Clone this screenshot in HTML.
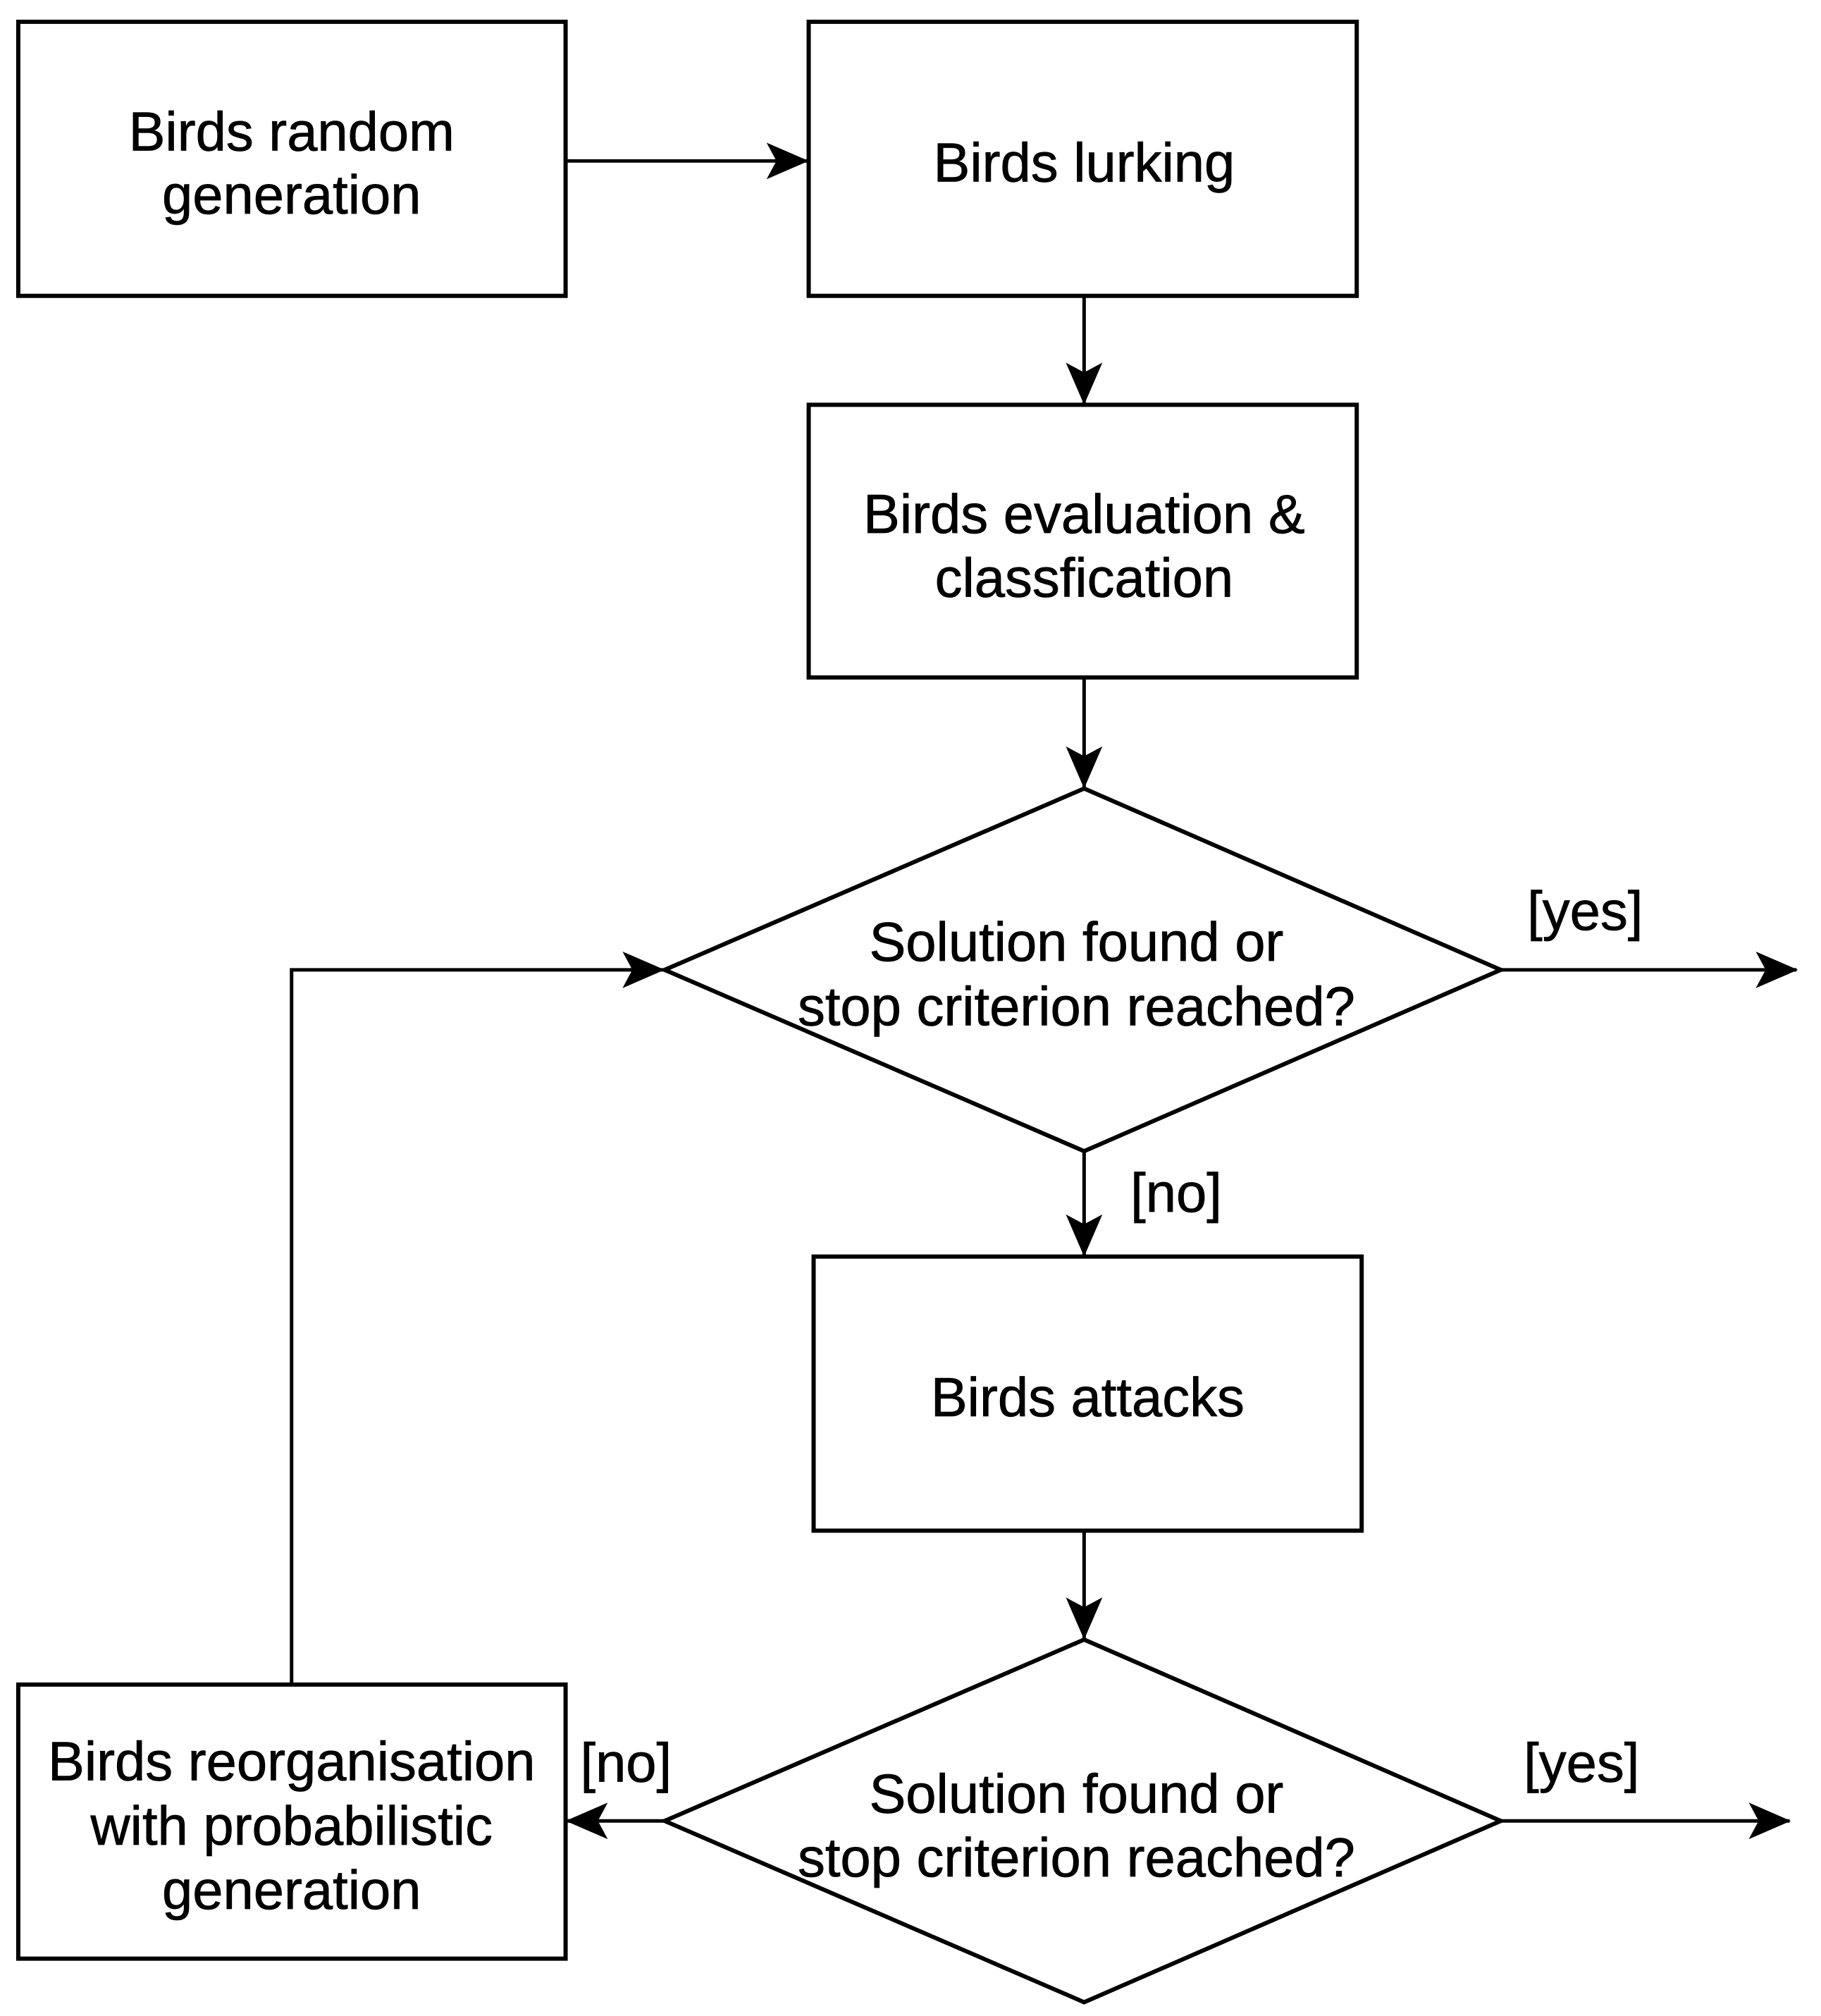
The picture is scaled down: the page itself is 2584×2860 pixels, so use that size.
<!DOCTYPE html>
<html><head><meta charset="utf-8"><style>html,body{margin:0;padding:0;background:#fff}svg{display:block}</style></head>
<body>
<svg width="2584" height="2860" viewBox="0 0 2584 2860" xmlns="http://www.w3.org/2000/svg">
<defs>
<marker id="b" markerWidth="60" markerHeight="60" refX="58" refY="30" orient="auto" markerUnits="userSpaceOnUse"><path d="M0,4 L60,30 L0,56 L14,30 Z" fill="#000"/></marker></defs>
<g transform="scale(0.997)">
<g fill="none" stroke="#000" stroke-width="6">
<rect x="26" y="31" width="779" height="390"/>
<rect x="1151" y="31" width="780" height="390"/>
<rect x="1151" y="576" width="780" height="388"/>
<polygon points="1543,1122 2136,1380 1543,1638 946,1380"/>
<rect x="1158" y="1788" width="780" height="390"/>
<polygon points="1543,2333 2136,2591 1543,2849 946,2591"/>
<rect x="26" y="2397" width="779" height="390"/>
<g stroke-width="5">
<line x1="805" y1="229" x2="1149" y2="229" marker-end="url(#b)"/>
<line x1="1543" y1="421" x2="1543" y2="574" marker-end="url(#b)"/>
<line x1="1543" y1="964" x2="1543" y2="1120" marker-end="url(#b)"/>
<line x1="1543" y1="1638" x2="1543" y2="1786" marker-end="url(#b)"/>
<line x1="1543" y1="2178" x2="1543" y2="2331" marker-end="url(#b)"/>
<line x1="2136" y1="1380" x2="2557" y2="1380" marker-end="url(#b)"/>
<line x1="2136" y1="2591" x2="2547" y2="2591" marker-end="url(#b)"/>
<line x1="946" y1="2591" x2="807" y2="2591" marker-end="url(#b)"/>
<polyline points="415,2397 415,1380 944,1380" marker-end="url(#b)"/>
</g></g>
<g font-family="Liberation Sans, Arial, sans-serif" font-size="78" fill="#000" stroke="#000" stroke-width="0.8" text-anchor="middle" dominant-baseline="central">
<text x="415" y="188">Birds random</text><text x="415" y="278">generation</text>
<text x="1543" y="232">Birds lurking</text>
<text x="1543" y="732">Birds evaluation &amp;</text><text x="1543" y="823">classfication</text>
<text x="1532" y="1341">Solution found or</text><text x="1532" y="1433">stop criterion reached?</text>
<text x="1548" y="1989">Birds attacks</text>
<text x="1532" y="2553">Solution found or</text><text x="1532" y="2644">stop criterion reached?</text>
<text x="415" y="2507">Birds reorganisation</text><text x="415" y="2599">with probabilistic</text><text x="415" y="2690">generation</text>
<text x="2256" y="1297">[yes]</text>
<text x="1674" y="1698">[no]</text>
<text x="891" y="2509">[no]</text>
<text x="2251" y="2509">[yes]</text>
</g>
</g>
</svg>
</body></html>
